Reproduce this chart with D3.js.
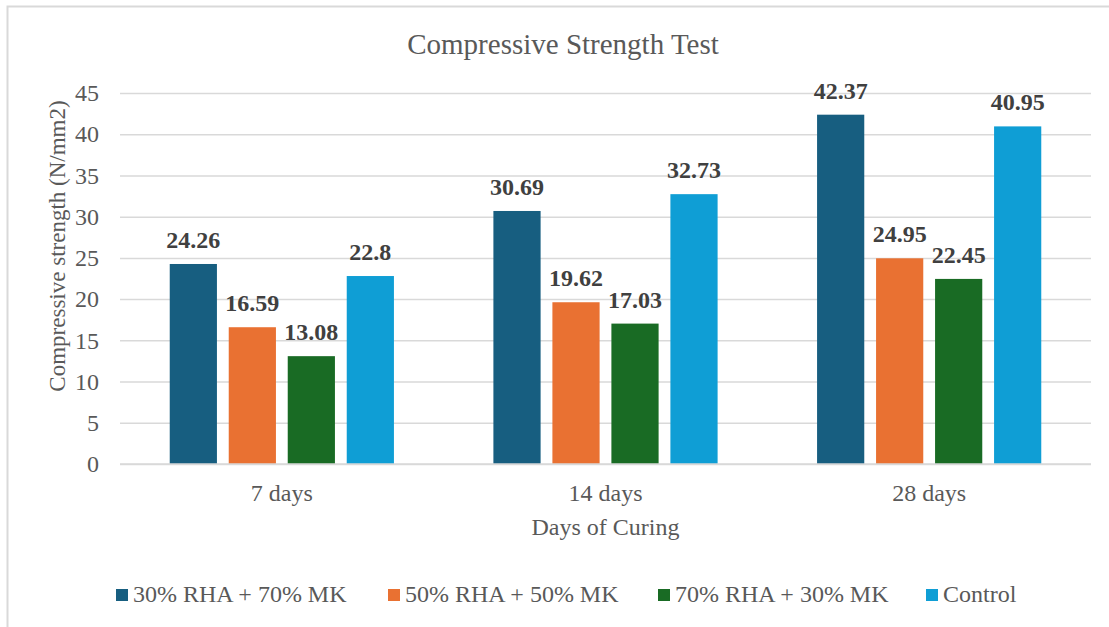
<!DOCTYPE html>
<html>
<head>
<meta charset="utf-8">
<script src="https://cdn.jsdelivr.net/npm/d3@7"></script>
<style>
  html, body { margin: 0; padding: 0; background: #fff; }
  svg { display: block; }
  svg text { font-family: "Liberation Serif", "DejaVu Serif", serif !important; }
</style>
</head>
<body>
<svg id="chart" width="1109" height="627"></svg>
<script>
// Compressive strength (N/mm2) by curing age and mix
const categories = ["7 days", "14 days", "28 days"];
const seriesNames = ["30% RHA + 70% MK", "50% RHA + 50% MK", "70% RHA + 30% MK", "Control"];
const rha30 = [24.26, 30.69, 42.37];
const rha50 = [16.59, 19.62, 24.95];
const rha70 = [13.08, 17.03, 22.45];
const control = [22.8, 32.73, 40.95];
const yTicks = [0, 5, 10, 15, 20, 25, 30, 35, 40, 45];
const colors = ["#175e80", "#e97132", "#196b24", "#0f9ed5"];

const seriesValues = [rha30, rha50, rha70, control];

const svg = d3.select("#chart");
const W = 1109, H = 627;
const margin = { left: 120, right: 18, top: 93, bottom: 163 };
const plotW = W - margin.left - margin.right;
const plotH = H - margin.top - margin.bottom;

// chart frame
svg.append("rect")
  .attr("x", 7.5).attr("y", 6.5)
  .attr("width", W + 20).attr("height", H + 20)
  .attr("fill", "#fff").attr("stroke", "#d9d9d9").attr("stroke-width", 2);

const g = svg.append("g").attr("transform", `translate(${margin.left},${margin.top})`);

const y = d3.scaleLinear().domain([0, 45]).range([plotH, 0]);
const x0 = d3.scaleBand().domain(categories).range([0, plotW]).padding(0);
const groupW = 236;
const x1 = d3.scaleBand().domain(seriesNames).range([-groupW / 2, groupW / 2])
  .paddingInner(0.2).paddingOuter(0.1);

// gridlines
const yAxis = d3.axisLeft(y).tickValues(yTicks).tickSize(-plotW).tickPadding(21);
const ya = g.append("g").call(yAxis);
ya.select(".domain").remove();
ya.selectAll(".tick line").attr("stroke", "#d9d9d9").attr("stroke-width", 1.5);
ya.selectAll(".tick text")
  .attr("fill", "#595959").attr("font-size", 24);

// bars
seriesNames.forEach((s, si) => {
  const vals = seriesValues[si];
  const gs = g.append("g");
  gs.selectAll("rect").data(categories).join("rect")
    .attr("x", (c) => x0(c) + x0.bandwidth() / 2 + x1(s))
    .attr("y", (c, i) => y(vals[i]))
    .attr("width", x1.bandwidth())
    .attr("height", (c, i) => plotH - y(vals[i]))
    .attr("fill", colors[si]);
  gs.selectAll("text").data(categories).join("text")
    .attr("x", (c) => x0(c) + x0.bandwidth() / 2 + x1(s) + x1.bandwidth() / 2)
    .attr("y", (c, i) => y(vals[i]) - 16)
    .attr("text-anchor", "middle")
    .attr("font-size", 24).attr("font-weight", "bold")
    .attr("fill", "#404040")
    .text((c, i) => vals[i]);
});

// baseline
g.append("line").attr("x1", 0).attr("x2", plotW).attr("y1", plotH).attr("y2", plotH)
  .attr("stroke", "#d9d9d9").attr("stroke-width", 1.5);

// category axis
const xa = g.append("g").attr("transform", `translate(0,${plotH})`)
  .call(d3.axisBottom(x0).tickSize(0).tickPadding(20));
xa.select(".domain").remove();
xa.selectAll(".tick text")
  .attr("fill", "#595959").attr("font-size", 24);

// titles
svg.append("text").attr("x", 563).attr("y", 54).attr("text-anchor", "middle")
  .attr("font-size", 29).attr("fill", "#595959").text("Compressive Strength Test");
svg.append("text").attr("x", margin.left + plotW / 2).attr("y", 535).attr("text-anchor", "middle")
  .attr("font-size", 24).attr("fill", "#595959").text("Days of Curing");
svg.append("text").attr("transform", "translate(65,246) rotate(-90)").attr("text-anchor", "middle")
  .attr("font-size", 23).attr("fill", "#595959").text("Compressive strength (N/mm2)");

// legend
const legendX = [116, 388, 658, 926];
const lg = svg.append("g");
seriesNames.forEach((s, i) => {
  lg.append("rect").attr("x", legendX[i]).attr("y", 589).attr("width", 12).attr("height", 12)
    .attr("fill", colors[i]);
  lg.append("text").attr("x", legendX[i] + 17).attr("y", 602)
    .attr("font-size", 24).attr("fill", "#595959").text(s);
});
</script>
</body>
</html>
